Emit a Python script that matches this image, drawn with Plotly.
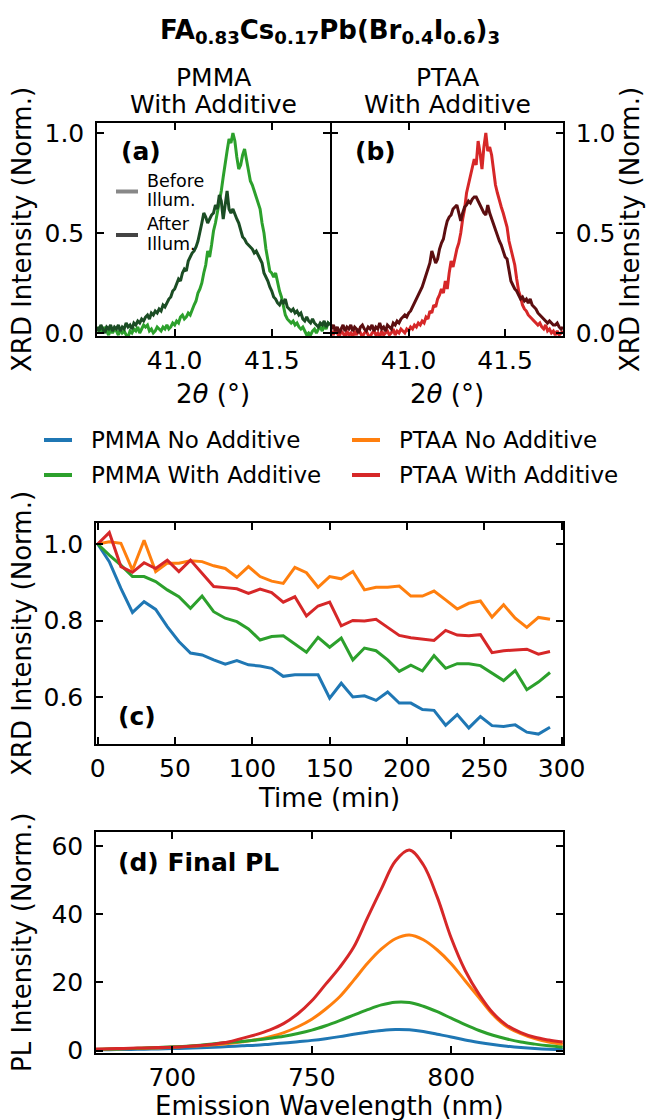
import plotly.graph_objects as go

W, H = 647, 1120
FONT = "DejaVu Sans"

BLUE, ORANGE, GREEN, RED = "#1f77b4", "#ff7f0e", "#2ca02c", "#d62728"
DARK_GREEN, DARK_RED = "#1b4d24", "#5c0e10"

# ---- XRD (a)/(b): 2theta scans before and after illumination ----
two_theta = [round(40.60 + 0.01 * i, 2) for i in range(121)]

pmma_before = [
    0.03, 0.01, 0.02, 0.00, 0.03, 0.01, -0.01, 0.02, 0.00, 0.02,
    0.01, -0.01, 0.02, 0.00, 0.01, -0.01, -0.02, 0.01, 0.00, 0.02,
    0.01, 0.03, 0.00, 0.02, 0.04, 0.03, 0.04, 0.01, 0.02, 0.00,
    0.01, 0.03, 0.02, 0.01, 0.03, 0.02, 0.04, 0.02, 0.03, 0.05,
    0.04, 0.06, 0.05, 0.08, 0.09, 0.07, 0.08, 0.10, 0.09, 0.12,
    0.14, 0.16, 0.20, 0.22, 0.25, 0.30, 0.34, 0.41, 0.38, 0.44,
    0.51, 0.55, 0.60, 0.66, 0.71, 0.78, 0.86, 0.91, 0.97, 0.95,
    1.00, 0.96, 0.88, 0.82, 0.84, 0.89, 0.92, 0.86, 0.80, 0.76,
    0.74, 0.71, 0.68, 0.66, 0.62, 0.55, 0.50, 0.42, 0.36, 0.31,
    0.30, 0.28, 0.30, 0.25, 0.21, 0.18, 0.13, 0.09, 0.07, 0.06,
    0.05, 0.06, 0.04, 0.05, 0.03, 0.02, 0.03, 0.01, -0.01, 0.00,
    -0.01, 0.01, 0.02, 0.00, 0.02, 0.03, 0.01, 0.04, 0.02, 0.05,
    0.04,
]
pmma_after = [
    0.03, 0.01, 0.04, 0.02, 0.00, 0.03, 0.02, 0.04, 0.01, 0.03,
    0.02, 0.04, 0.01, 0.03, 0.02, 0.05, 0.03, 0.04, 0.02, 0.05,
    0.04, 0.06, 0.05, 0.07, 0.06, 0.08, 0.09, 0.07, 0.10, 0.09,
    0.11, 0.10, 0.12, 0.11, 0.14, 0.13, 0.15, 0.17, 0.18, 0.21,
    0.22, 0.25, 0.27, 0.26, 0.30, 0.32, 0.31, 0.36, 0.38, 0.40,
    0.41, 0.43, 0.46, 0.50, 0.55, 0.60, 0.58, 0.55, 0.57, 0.59,
    0.60, 0.64, 0.62, 0.69, 0.66, 0.57, 0.64, 0.71, 0.62, 0.60,
    0.62, 0.59, 0.57, 0.55, 0.52, 0.48, 0.47, 0.45, 0.44, 0.43,
    0.42, 0.40, 0.41, 0.39, 0.37, 0.35, 0.30, 0.28, 0.26, 0.23,
    0.21, 0.18, 0.17, 0.15, 0.14, 0.16, 0.15, 0.17, 0.13, 0.12,
    0.11, 0.12, 0.10, 0.11, 0.09, 0.10, 0.07, 0.06, 0.08, 0.06,
    0.05, 0.07, 0.05, 0.04, 0.03, 0.05, 0.04, 0.06, 0.03, 0.05,
    0.04,
]
ptaa_before = [
    0.01, -0.01, 0.02, 0.00, -0.02, 0.01, 0.00, -0.02, 0.01, -0.01,
    0.00, -0.02, 0.01, -0.01, 0.02, 0.00, -0.02, 0.00, 0.01, -0.01,
    -0.02, 0.00, 0.01, -0.01, 0.00, -0.02, 0.01, -0.01, 0.00, 0.01,
    -0.01, 0.00, 0.02, -0.01, 0.01, 0.00, 0.02, 0.01, 0.00, 0.02,
    0.01, 0.03, 0.02, 0.04, 0.03, 0.05, 0.04, 0.06, 0.05, 0.08,
    0.07, 0.11, 0.10, 0.14, 0.13, 0.17, 0.19, 0.22, 0.20, 0.26,
    0.22, 0.30, 0.36, 0.33, 0.38, 0.42, 0.45, 0.50, 0.57, 0.62,
    0.70, 0.74, 0.78, 0.82, 0.87, 0.84, 0.96, 0.90, 0.82, 0.93,
    1.00, 0.91, 0.93, 0.89, 0.80, 0.74, 0.70, 0.66, 0.63, 0.60,
    0.57, 0.53, 0.46, 0.42, 0.38, 0.34, 0.27, 0.21, 0.18, 0.14,
    0.12, 0.11, 0.09, 0.08, 0.07, 0.06, 0.05, 0.04, 0.05, 0.03,
    0.02, 0.04, 0.01, 0.02, 0.00, 0.01, -0.01, 0.01, -0.01, 0.00,
    0.01,
]
ptaa_after = [
    0.02, 0.04, 0.01, 0.03, 0.00, 0.02, 0.04, 0.01, 0.03, 0.02,
    0.04, 0.01, 0.03, 0.02, 0.00, 0.03, 0.04, 0.02, 0.01, 0.03,
    0.02, 0.04, 0.01, 0.03, 0.02, 0.05, 0.02, 0.03, 0.01, 0.04,
    0.03, 0.02, 0.05, 0.04, 0.06, 0.05, 0.07, 0.08, 0.09, 0.08,
    0.10, 0.11, 0.13, 0.15, 0.17, 0.19, 0.21, 0.23, 0.26, 0.29,
    0.31, 0.35, 0.41, 0.38, 0.35, 0.37, 0.42, 0.45, 0.47, 0.52,
    0.56, 0.58, 0.59, 0.62, 0.63, 0.64, 0.60, 0.56, 0.60, 0.63,
    0.64, 0.66, 0.65, 0.67, 0.68, 0.68, 0.66, 0.64, 0.62, 0.60,
    0.59, 0.64, 0.60, 0.57, 0.54, 0.51, 0.49, 0.46, 0.44, 0.41,
    0.38, 0.37, 0.32, 0.26, 0.24, 0.22, 0.21, 0.19, 0.17, 0.18,
    0.16, 0.17, 0.15, 0.17, 0.14, 0.13, 0.12, 0.10, 0.09, 0.08,
    0.07, 0.06, 0.05, 0.06, 0.05, 0.04, 0.04, 0.05, 0.03, 0.02,
    0.03,
]

# ---- (c): normalised XRD intensity vs illumination time ----
time_min = [7.5 * i for i in range(40)]
xrd_pmma_no = [
    1.000, 0.954, 0.884, 0.821, 0.849, 0.829, 0.784, 0.745, 0.715, 0.710,
    0.697, 0.686, 0.695, 0.684, 0.681, 0.675, 0.654, 0.658, 0.658, 0.658,
    0.597, 0.636, 0.600, 0.603, 0.591, 0.613, 0.584, 0.584, 0.567, 0.565,
    0.526, 0.554, 0.519, 0.549, 0.525, 0.523, 0.527, 0.508, 0.503, 0.521,
]
xrd_ptaa_no = [
    1.000, 1.006, 1.002, 0.932, 1.010, 0.928, 0.950, 0.950, 0.956, 0.954,
    0.943, 0.936, 0.913, 0.941, 0.915, 0.903, 0.897, 0.939, 0.925, 0.887,
    0.915, 0.909, 0.928, 0.880, 0.887, 0.887, 0.890, 0.864, 0.864, 0.877,
    0.854, 0.830, 0.845, 0.851, 0.809, 0.841, 0.806, 0.782, 0.808, 0.803,
]
xrd_pmma_with = [
    1.000, 0.971, 0.945, 0.915, 0.915, 0.902, 0.880, 0.862, 0.832, 0.864,
    0.823, 0.806, 0.797, 0.778, 0.749, 0.758, 0.760, 0.739, 0.717, 0.756,
    0.730, 0.754, 0.697, 0.728, 0.721, 0.697, 0.667, 0.683, 0.668, 0.708,
    0.675, 0.687, 0.687, 0.682, 0.662, 0.643, 0.669, 0.619, 0.639, 0.664,
]
xrd_ptaa_with = [
    1.000, 1.030, 0.941, 0.926, 0.951, 0.936, 0.958, 0.928, 0.958, 0.923,
    0.889, 0.886, 0.883, 0.871, 0.882, 0.873, 0.848, 0.862, 0.812, 0.838,
    0.848, 0.786, 0.800, 0.799, 0.803, 0.782, 0.761, 0.755, 0.752, 0.748,
    0.774, 0.762, 0.760, 0.763, 0.716, 0.721, 0.723, 0.725, 0.712, 0.719,
]

# ---- (d): final photoluminescence spectra ----
wavelength = [670 + 5 * i for i in range(35)]
pl_pmma_no = [
    0.20, 0.25, 0.30, 0.35, 0.40, 0.50, 0.60, 0.70, 0.85, 1.00,
    1.20, 1.40, 1.60, 1.90, 2.20, 2.60, 3.00, 3.50, 4.10, 4.80,
    5.40, 5.90, 6.20, 6.10, 5.60, 4.80, 4.00, 3.10, 2.40, 1.80,
    1.30, 0.90, 0.60, 0.40, 0.30,
]
pl_ptaa_no = [
    0.30, 0.40, 0.50, 0.60, 0.70, 0.80, 1.00, 1.20, 1.40, 1.70,
    2.10, 2.60, 3.20, 4.10, 5.30, 7.00, 9.20, 12.2, 15.8, 20.6,
    25.6, 29.8, 32.8, 33.9, 32.5, 29.5, 25.5, 20.5, 15.5, 10.5,
    7.00, 5.00, 3.50, 2.50, 1.80,
]
pl_pmma_with = [
    0.30, 0.40, 0.50, 0.60, 0.80, 0.90, 1.10, 1.30, 1.60, 2.00,
    2.40, 2.70, 3.10, 3.60, 4.20, 5.00, 6.00, 7.30, 8.80, 10.4,
    12.0, 13.4, 14.2, 14.1, 13.0, 11.4, 9.50, 7.60, 5.90, 4.50,
    3.40, 2.50, 1.90, 1.40, 1.00,
]
pl_ptaa_with = [
    0.40, 0.50, 0.60, 0.70, 0.80, 0.90, 1.00, 1.20, 1.50, 1.90,
    2.50, 3.60, 4.70, 6.10, 8.00, 10.8, 14.6, 19.5, 24.4, 30.3,
    39.0, 47.5, 55.6, 58.8, 54.5, 45.0, 33.0, 23.5, 16.5, 11.0,
    7.40, 5.30, 3.90, 3.10, 2.50,
]

series_names = ["PMMA No Additive", "PTAA No Additive",
                "PMMA With Additive", "PTAA With Additive"]
series_colors = [BLUE, ORANGE, GREEN, RED]
xrd_series = [xrd_pmma_no, xrd_ptaa_no, xrd_pmma_with, xrd_ptaa_with]
pl_series = [pl_pmma_no, pl_ptaa_no, pl_pmma_with, pl_ptaa_with]


def xdom(left, right):
    return [left / W, right / W]


def ydom(top, bottom):
    return [1 - bottom / H, 1 - top / H]


fig = go.Figure()

# panel (a)
fig.add_trace(go.Scatter(x=two_theta, y=pmma_before, mode="lines",
                         name="PMMA before", line=dict(color=GREEN, width=3),
                         xaxis="x", yaxis="y"))
fig.add_trace(go.Scatter(x=two_theta, y=pmma_after, mode="lines",
                         name="PMMA after", line=dict(color=DARK_GREEN, width=3),
                         xaxis="x", yaxis="y"))
# panel (b)
fig.add_trace(go.Scatter(x=two_theta, y=ptaa_before, mode="lines",
                         name="PTAA before", line=dict(color=RED, width=3),
                         xaxis="x2", yaxis="y2"))
fig.add_trace(go.Scatter(x=two_theta, y=ptaa_after, mode="lines",
                         name="PTAA after", line=dict(color=DARK_RED, width=3),
                         xaxis="x2", yaxis="y2"))
# panel (c)
for name, color, vals in zip(series_names, series_colors, xrd_series):
    fig.add_trace(go.Scatter(x=time_min, y=vals, mode="lines", name=name,
                             line=dict(color=color, width=3),
                             xaxis="x3", yaxis="y3"))
# panel (d)
for name, color, vals in zip(series_names, series_colors, pl_series):
    fig.add_trace(go.Scatter(x=wavelength, y=vals, mode="lines", name=name,
                             line=dict(color=color, width=3, shape="spline",
                                       smoothing=1.0),
                             xaxis="x4", yaxis="y4"))

axis_style = dict(showline=True, linecolor="black", linewidth=1.5,
                  mirror="ticks", ticks="inside", ticklen=7, tickwidth=1.5,
                  tickcolor="black", showgrid=False, zeroline=False,
                  automargin=False,
                  tickfont=dict(size=25, color="black", family=FONT))
x_style = dict(axis_style, ticklabelstandoff=1)
y_style = dict(axis_style, ticklabelstandoff=6)

xrd_ticks = dict(tickvals=[0, 0.5, 1.0], ticktext=["0.0", "0.5", "1.0"])
theta_ticks = dict(tickvals=[41.0, 41.5], ticktext=["41.0", "41.5"])

fig.update_layout(
    width=W, height=H,
    margin=dict(l=0, r=0, t=0, b=0, autoexpand=False),
    paper_bgcolor="white", plot_bgcolor="white",
    font=dict(family=FONT, color="black"),
    showlegend=False,
    xaxis=dict(x_style, domain=xdom(97, 330), range=[40.6, 41.8],
               anchor="y", **theta_ticks),
    yaxis=dict(y_style, domain=ydom(123, 336), range=[-0.015, 1.05],
               anchor="x", **xrd_ticks),
    xaxis2=dict(x_style, domain=xdom(331.5, 563), range=[40.6, 41.8],
                anchor="y2", **theta_ticks),
    yaxis2=dict(y_style, domain=ydom(123, 336), range=[-0.015, 1.05],
                anchor="x2", side="right", **xrd_ticks),
    xaxis3=dict(x_style, domain=xdom(96, 563), range=[-1.1, 300.9],
                anchor="y3", tickvals=[0, 50, 100, 150, 200, 250, 300]),
    yaxis3=dict(y_style, domain=ydom(523, 744), range=[0.477, 1.055],
                anchor="x3", tickvals=[0.6, 0.8, 1.0],
                ticktext=["0.6", "0.8", "1.0"]),
    xaxis4=dict(x_style, domain=xdom(96, 563), range=[672.6, 840.1],
                anchor="y4", tickvals=[700, 750, 800]),
    yaxis4=dict(y_style, domain=ydom(832, 1053), range=[-0.7, 64.1],
                anchor="x4", tickvals=[0, 20, 40, 60]),
)


def text(x, y, s, size=25, angle=0, bold=False, xanchor="center"):
    fig.add_annotation(x=x / W, y=1 - y / H, xref="paper", yref="paper",
                       text=f"<b>{s}</b>" if bold else s, showarrow=False,
                       textangle=angle, xanchor=xanchor, yanchor="middle",
                       font=dict(size=size, family=FONT, color="black"))


def key_line(x0, x1, y, color, width=4):
    fig.add_shape(type="line", xref="paper", yref="paper",
                  x0=x0 / W, x1=x1 / W, y0=1 - y / H, y1=1 - y / H,
                  line=dict(color=color, width=width))


# figure title and column headings
text(330, 31, "FA<sub>0.83</sub>Cs<sub>0.17</sub>Pb(Br<sub>0.4</sub>"
     "I<sub>0.6</sub>)<sub>3</sub>", size=26, bold=True)
for cx, head in [(213, "PMMA"), (447, "PTAA")]:
    text(cx, 78, head, size=25)
    text(cx, 104, "With Additive", size=25)

# axis titles
text(22, 230, "XRD Intensity (Norm.)", size=26, angle=-90)
text(630, 230, "XRD Intensity (Norm.)", size=26, angle=-90)
text(213, 394, "2<i>θ</i> (°)", size=26)
text(447, 394, "2<i>θ</i> (°)", size=26)
text(22, 634, "XRD Intensity (Norm.)", size=26, angle=-90)
text(329, 798, "Time (min)", size=26)
text(22, 943, "PL Intensity (Norm.)", size=26, angle=-90)
text(329, 1106, "Emission Wavelength (nm)", size=26)

# panel labels
text(119, 152, "(a)", size=25, bold=True, xanchor="left")
text(353, 152, "(b)", size=25, bold=True, xanchor="left")
text(116, 716, "(c)", size=25, bold=True, xanchor="left")
text(116, 862, "(d) Final PL", size=25, bold=True, xanchor="left")

# before / after key inside panel (a)
for y_line, color, words in [(191.5, "#888888", ("Before", "Illum.")),
                             (235, "#444444", ("After", "Illum."))]:
    key_line(116, 138, y_line, color)
    text(145, y_line - 11, words[0], size=17.5, xanchor="left")
    text(145, y_line + 9, words[1], size=17.5, xanchor="left")

# series key between the XRD panels and (c)
key_pos = [(44, 440), (352, 440), (44, 475), (352, 475)]
for (kx, ky), name, color in zip(key_pos, series_names, series_colors):
    key_line(kx, kx + 28, ky, color)
    text(kx + 45, ky, name, size=23, xanchor="left")

fig.write_html("out.html")
